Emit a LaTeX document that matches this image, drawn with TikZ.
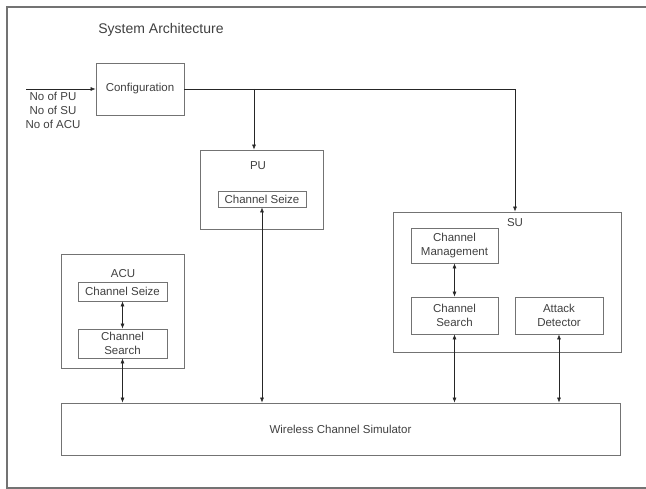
\documentclass[tikz,border=0pt]{standalone}
\usepackage{fontspec}
\setmainfont{Liberation Sans}
\usepackage{xcolor}
\usetikzlibrary{arrows.meta}

\begin{document}
\begin{tikzpicture}[x=1pt, y=-1pt, font=\fontsize{11.5}{14}\selectfont, text=black!75,
  box/.style={draw=black!55, line width=0.8pt, inner sep=0pt, align=center},
  link/.style={draw=black!85, line width=0.6pt, -{Latex[length=5pt,width=4pt]}},
  both/.style={draw=black!85, line width=0.6pt, {Latex[length=5pt,width=4pt]}-{Latex[length=5pt,width=4pt]}}]
  \useasboundingbox (0,0) rectangle (646,489);
  \draw[draw=black!55, line width=1.2pt] (646,7) -- (7,7) -- (7,488) -- (646,488);

  \node[font=\fontsize{14}{17}\selectfont] (T) at (161,30) {System Architecture};
  \node[align=center] (IN) at (53,110) {No of PU\\No of SU\\No of ACU};
  \coordinate (S) at (26,89);
  \coordinate (J) at (254,89);

  \node[box, minimum width=88pt,  minimum height=52pt] (CF) at (140,89)    {Configuration};
  \node[box, minimum width=123pt, minimum height=79pt] (PU) at (261.5,189.5) {};
  \node                                                (PL) at (258,166)   {PU};
  \node[box, minimum width=88pt,  minimum height=16pt] (PS) at (262,199)   {Channel Seize};

  \node[box, minimum width=228pt, minimum height=140pt] (SU) at (507,282)   {};
  \node                                                 (SL) at (515,223)   {SU};
  \node[box, minimum width=87pt,  minimum height=35pt]  (CM) at (454.5,245.5) {Channel\\Management};
  \node[box, minimum width=87pt,  minimum height=37pt]  (CS) at (454.5,315.5) {Channel\\Search};
  \node[box, minimum width=88pt,  minimum height=37pt]  (AD) at (559,315.5)   {Attack\\Detector};

  \node[box, minimum width=123pt, minimum height=114pt] (AC) at (122.5,311)   {};
  \node                                                 (AL) at (123,274)     {ACU};
  \node[box, minimum width=89pt,  minimum height=19pt]  (AS) at (122.5,291.5) {Channel Seize};
  \node[box, minimum width=89pt,  minimum height=29pt]  (AR) at (122.5,343.5) {Channel\\Search};

  \node[box, minimum width=559pt, minimum height=52pt]  (W)  at (340.5,429)   {Wireless Channel Simulator};

  \draw[link] (S) -- (CF.west);
  \draw[link] (CF.east) -| ([xshift=8pt]SU.north);
  \draw[link] (J) -- (J |- PU.north);
  \draw[both] (PS.south) -- (PS.south |- W.north);
  \draw[both] (CM.south) -- (CS.north);
  \draw[both] (CS.south) -- (CS.south |- W.north);
  \draw[both] (AD.south) -- (AD.south |- W.north);
  \draw[both] (AS.south) -- (AR.north);
  \draw[both] (AR.south) -- (AR.south |- W.north);
\end{tikzpicture}
\end{document}
